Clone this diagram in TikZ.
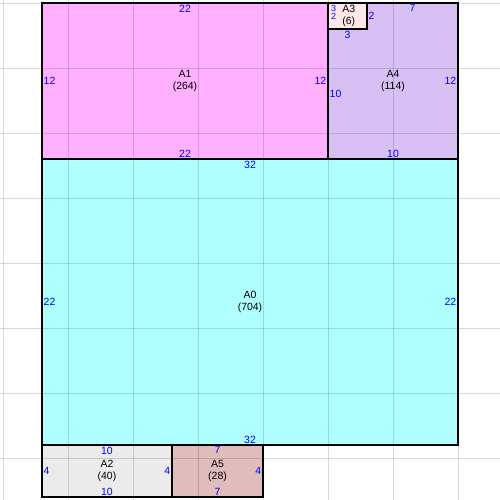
\documentclass[tikz,border=0pt]{standalone}
\usepackage{fontspec}
\setmainfont{Liberation Sans}
\definecolor{fillA}{RGB}{176,255,255}
\definecolor{fillB}{RGB}{255,176,255}
\definecolor{fillC}{RGB}{235,235,235}
\definecolor{fillD}{RGB}{255,232,232}
\definecolor{fillE}{RGB}{216,192,244}
\definecolor{fillF}{RGB}{224,188,188}
\newcommand{\wide}{35}
\newcommand{\high}{38}

\tikzset{
    gridline/.style={draw=black, opacity=0.15, line width=1bp},
    part/.style={draw=black, line width=1.2bp},
    len/.style={text=blue, font=\fontsize{10.5}{12}\selectfont, inner sep=1.5bp},
    tiny/.style={len, font=\fontsize{9}{10}\selectfont, inner sep=0.3bp},
    tag/.style={align=center, font=\fontsize{10.5}{12}\selectfont, inner sep=0pt},
}

\begin{document}
\begin{tikzpicture}[x=13bp, y=-13bp]
    \useasboundingbox (-0.2308, -0.2308) rectangle (38.2308, 38.2308);
    % parts
    \fill[fillB] (3, 0) rectangle (25, 12);
    \fill[fillE] (28, 0) -- (35, 0) -- (35, 12) -- (25, 12) -- (25, 2) -- (28, 2) -- cycle;
    \fill[fillD] (25, 0) rectangle (28, 2);
    \fill[fillA] (3, 12) rectangle (35, 34);
    \fill[fillC] (3, 34) rectangle (13, 38);
    \fill[fillF] (13, 34) rectangle (20, 38);
    % grid
    \foreach \g in {0, 5, ..., \wide} {
        \draw[gridline] (\g, -0.3) -- (\g, 38.3);
        \draw[gridline] (-0.3, \g) -- (38.3, \g);
    }
    % borders
    \draw[part] (3, 0) rectangle (25, 12);
    \draw[part] (28, 0) -- (35, 0) -- (35, 12) -- (25, 12) -- (25, 2) -- (28, 2) -- cycle;
    \draw[part] (25, 0) rectangle (28, 2);
    \draw[part] (3, 12) rectangle (35, 34);
    \draw[part] (3, 34) rectangle (13, 38);
    \draw[part] (13, 34) rectangle (20, 38);
    % names
    \node[tag] (a0) at (19, 23) {A0\\(704)};
    \node[tag] (a1) at (14, 6) {A1\\(264)};
    \node[tag] (a2) at (8, 36) {A2\\(40)};
    \node[tag] (a3) at (26.6, 1) {A3\\(6)};
    \node[tag] (a4) at (30, 6) {A4\\(114)};
    \node[tag] (a5) at (16.5, 36) {A5\\(28)};
    % lengths
    \node[len, anchor=north] (a0t) at (19, 12) {32};
    \node[len, anchor=south] (a0b) at (19, 34) {32};
    \node[len, anchor=west] (a0l) at (3, 23) {22};
    \node[len, anchor=east] (a0r) at (35, 23) {22};
    \node[len, anchor=north] (a1t) at (14, 0) {22};
    \node[len, anchor=south] (a1b) at (14, 12) {22};
    \node[len, anchor=west] (a1l) at (3, 6) {12};
    \node[len, anchor=east] (a1r) at (25, 6) {12};
    \node[len, anchor=north] (a2t) at (8, 34) {10};
    \node[len, anchor=south] (a2b) at (8, 38) {10};
    \node[len, anchor=west] (a2l) at (3, 36) {4};
    \node[len, anchor=east] (a2r) at (13, 36) {4};
    \node[tiny, anchor=north west] (a3t) at (25.2, 0.1) {3};
    \node[len, anchor=north] (a3b) at (26.5, 2) {3};
    \node[tiny, anchor=north west] (a3l) at ([yshift=-1bp]a3t.south west) {2};
    \node[len, anchor=west] (a3r) at (28, 1) {2};
    \node[len, anchor=north] (a4t) at (31.5, 0) {7};
    \node[len, anchor=south] (a4b) at (30, 12) {10};
    \node[len, anchor=west] (a4l) at (25, 7) {10};
    \node[len, anchor=east] (a4r) at (35, 6) {12};
    \node[len, anchor=north] (a5t) at (16.5, 34) {7};
    \node[len, anchor=south] (a5b) at (16.5, 38) {7};
    \node[len, anchor=east] (a5r) at (20, 36) {4};
\end{tikzpicture}
\end{document}
